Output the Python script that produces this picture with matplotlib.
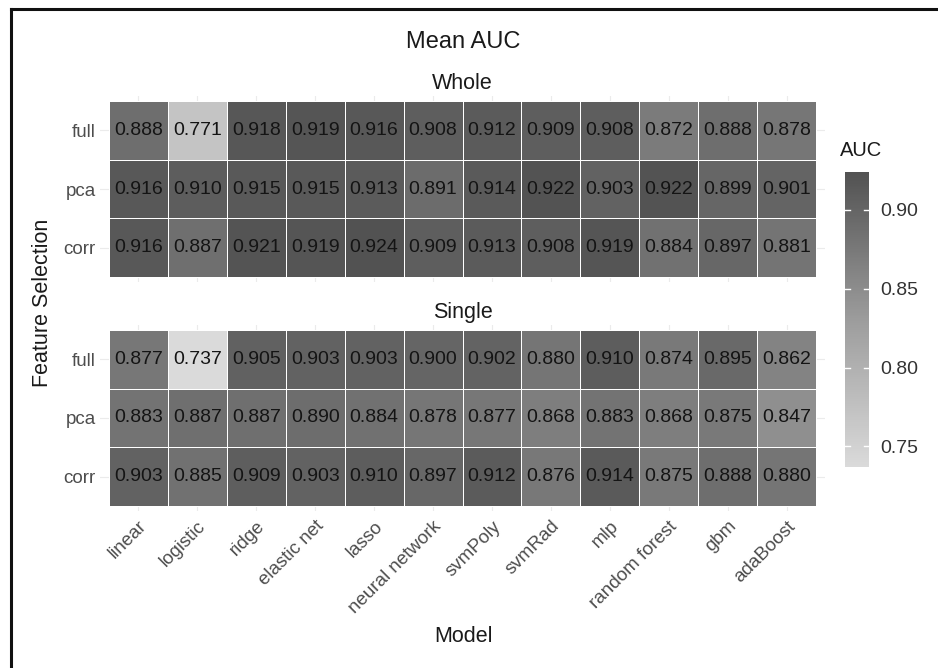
import numpy as np
import matplotlib
matplotlib.use('Agg')
import matplotlib.pyplot as plt
from matplotlib.colors import LinearSegmentedColormap
from matplotlib.lines import Line2D

plt.rcParams['font.family'] = ['Liberation Sans', 'DejaVu Sans']

models = ['linear', 'logistic', 'ridge', 'elastic net', 'lasso', 'neural network',
          'svmPoly', 'svmRad', 'mlp', 'random forest', 'gbm', 'adaBoost']
selections = ['full', 'pca', 'corr']

whole_auc = [
    [0.888, 0.771, 0.918, 0.919, 0.916, 0.908, 0.912, 0.909, 0.908, 0.872, 0.888, 0.878],
    [0.916, 0.910, 0.915, 0.915, 0.913, 0.891, 0.914, 0.922, 0.903, 0.922, 0.899, 0.901],
    [0.916, 0.887, 0.921, 0.919, 0.924, 0.909, 0.913, 0.908, 0.919, 0.884, 0.897, 0.881],
]
single_auc = [
    [0.877, 0.737, 0.905, 0.903, 0.903, 0.900, 0.902, 0.880, 0.910, 0.874, 0.895, 0.862],
    [0.883, 0.887, 0.887, 0.890, 0.884, 0.878, 0.877, 0.868, 0.883, 0.868, 0.875, 0.847],
    [0.903, 0.885, 0.909, 0.903, 0.910, 0.897, 0.912, 0.876, 0.914, 0.875, 0.888, 0.880],
]
cbar_ticks = [0.75, 0.80, 0.85, 0.90]

W, H = 938, 668
fig = plt.figure(figsize=(W / 100, H / 100), dpi=100)

cmap = LinearSegmentedColormap.from_list('grey_auc', ['#dadada', '#9c9c9c', '#525252'])
vmin = min(np.min(whole_auc), np.min(single_auc))
vmax = max(np.max(whole_auc), np.max(single_auc))


def px_axes(left, top, width, height):
    # axes placed in pixel coords measured from the top-left corner
    return fig.add_axes([left / W, 1 - (top + height) / H, width / W, height / H])


# tile area in pixels
tile_left, tile_right = 109, 816
cell_w = (tile_right - tile_left) / 12
cell_h = (277 - 101) / 3
xpad, ypad = 0.15, 0.08
ax_w = cell_w * (12 + 2 * xpad)
ax_h = cell_h * (3 + 2 * ypad)


def draw_panel(ax, data, title, show_x):
    data = np.array(data)
    for i in range(3):
        ax.axhline(i, color='#ebebeb', lw=0.8, zorder=0)
    for j in range(12):
        ax.axvline(j, color='#ebebeb', lw=0.8, zorder=0)
    mesh = ax.pcolormesh(np.arange(13) - 0.5, np.arange(4) - 0.5, data, cmap=cmap,
                         vmin=vmin, vmax=vmax, edgecolors='white', linewidth=0.5, zorder=1)
    for i in range(3):
        for j in range(12):
            ax.text(j, i, f'{data[i, j]:.3f}', ha='center', va='center',
                    fontsize=14, color='#141414', zorder=2)
    ax.set_xlim(-0.5 - xpad, 11.5 + xpad)
    ax.set_ylim(2.5 + ypad, -0.5 - ypad)
    ax.set_yticks(range(3), selections)
    ax.set_xticks(range(12))
    if show_x:
        ax.set_xticklabels(models, rotation=45, ha='right', va='top', rotation_mode='anchor')
    else:
        ax.set_xticklabels([])
    ax.tick_params(length=0, labelsize=13.5, labelcolor='#4d4d4d', pad=3)
    ax.tick_params(axis='x', pad=5)
    for s in ax.spines.values():
        s.set_visible(False)
    ax.set_title(title, fontsize=15.5, pad=5, color='#1a1a1a')
    return mesh


ax_whole = px_axes(tile_left - xpad * cell_w, 101 - ypad * cell_h, ax_w, ax_h)
ax_single = px_axes(tile_left - xpad * cell_w, 330 - ypad * cell_h, ax_w, ax_h)
mesh = draw_panel(ax_whole, whole_auc, 'Whole', False)
draw_panel(ax_single, single_auc, 'Single', True)

# colourbar
cax = px_axes(845, 172, 24, 295)
cb = fig.colorbar(mesh, cax=cax, ticks=cbar_ticks)
cb.outline.set_visible(False)
cb.ax.set_yticklabels([f'{t:.2f}' for t in cbar_ticks])
cb.ax.tick_params(length=0, labelsize=14, labelcolor='#333333', pad=8)
for t in cbar_ticks:
    cax.plot([0, 0.2], [t, t], color='white', lw=1, transform=cax.get_yaxis_transform())
    cax.plot([0.8, 1], [t, t], color='white', lw=1, transform=cax.get_yaxis_transform())
fig.text(840 / W, 1 - 150 / H, 'AUC', ha='left', va='center', fontsize=14.5, color='#1a1a1a')

# titles and axis labels
fig.text(463 / W, 1 - 42 / H, 'Mean AUC', ha='center', va='center', fontsize=17, color='#1a1a1a')
fig.text(43 / W, 1 - 303 / H, 'Feature Selection', ha='center', va='center', rotation=90,
         fontsize=15.5, color='#1a1a1a')
fig.text(463 / W, 1 - 636 / H, 'Model', ha='center', va='center', fontsize=15.5, color='#1a1a1a')

# frame around the figure (cut off at right and bottom)
fig.add_artist(Line2D([11 / W, 11 / W], [0, 1 - 9 / H], color='#111111', lw=2.2))
fig.add_artist(Line2D([11 / W, 1], [1 - 9 / H, 1 - 9 / H], color='#111111', lw=2.2))

fig.savefig('out.png', dpi=100, facecolor='white')
